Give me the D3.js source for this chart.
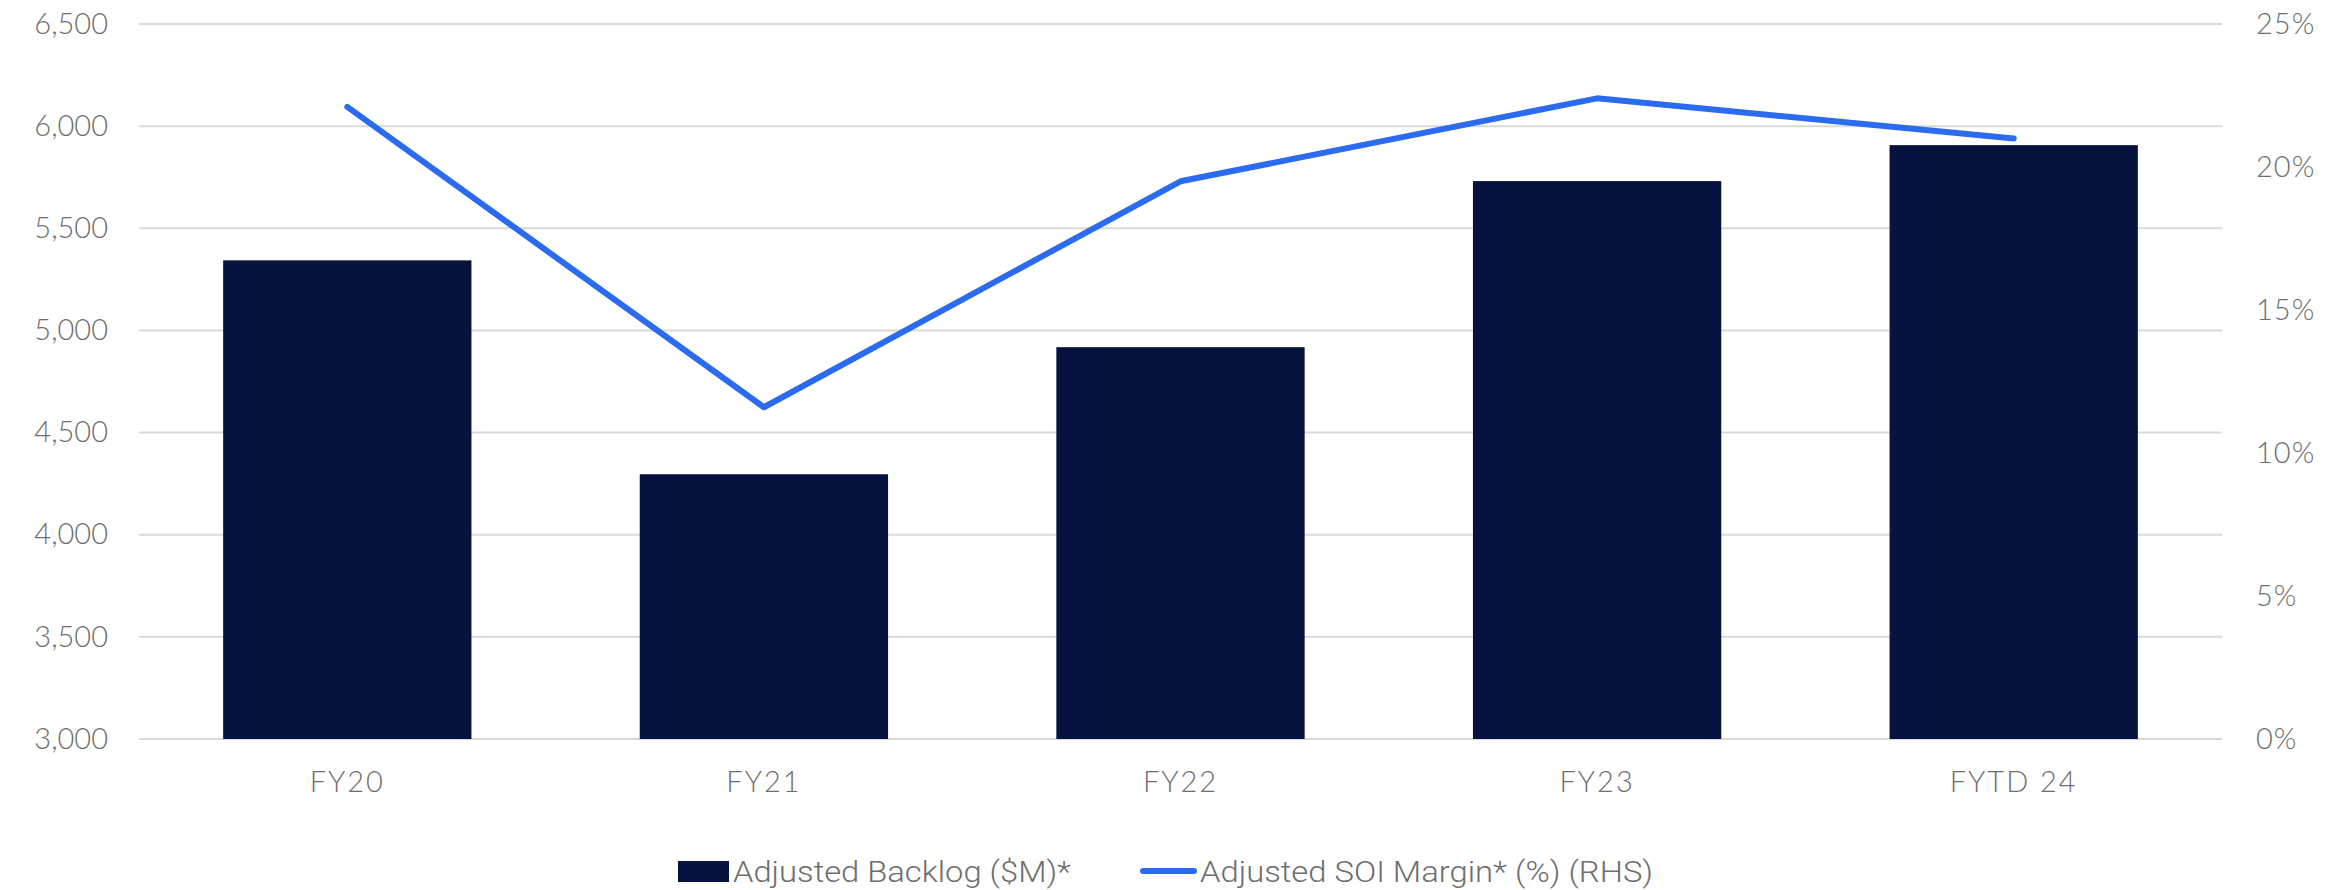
<!DOCTYPE html>
<html>
<head>
<meta charset="utf-8">
<script src="https://cdn.jsdelivr.net/npm/d3@7"></script>
<style>
  body { margin: 0; background: #fff; }
  svg { display: block; }
</style>
</head>
<body>
<svg id="chart" width="2346" height="890"></svg>
<script>
// chart values
var Years = ["FY20", "FY21", "FY22", "FY23", "FYTD 24"];
var Backlog = [5343, 4296, 4918, 5731, 5907];
var SoiMargin = [22.1, 11.6, 19.5, 22.4, 21.0];
var LeftTicks = [3000, 3500, 4000, 4500, 5000, 5500, 6000, 6500];
var RightTicks = [0, 5, 10, 15, 20, 25];
var LegendLabels = ["Adjusted Backlog ($M)*", "Adjusted SOI Margin* (%) (RHS)"];

var BarColor = "#07123e";
var LineColor = "#2b6bf0";
var TextColor = "#6e6e6e";
var AxisFont = "Lato";

function Draw() {
    var svg = d3.select("#chart");

    var plot = {left: 139, right: 2222, top: 24, bottom: 739};

    var xScale = d3.scaleBand().domain(Years)
                   .range([plot.left, plot.right]).paddingInner(0.404).paddingOuter(0.202);
    var yLeft = d3.scaleLinear().domain([3000, 6500]).range([plot.bottom, plot.top]);
    var yRight = d3.scaleLinear().domain([0, 25]).range([plot.bottom, plot.top]);

    // grid lines
    svg.append("g")
       .selectAll("line").data(LeftTicks).enter()
         .append("line")
         .attr("x1", plot.left)
         .attr("x2", plot.right)
         .attr("y1", function(d) { return yLeft(d); })
         .attr("y2", function(d) { return yLeft(d); })
         .attr("stroke", "#d9d9d9")
         .attr("stroke-width", 2);

    // bars
    svg.append("g")
       .selectAll("rect").data(Years).enter()
         .append("rect")
         .attr("x", function(d) { return xScale(d); })
         .attr("width", xScale.bandwidth())
         .attr("y", function(d, i) { return yLeft(Backlog[i]); })
         .attr("height", function(d, i) { return yLeft(3000) - yLeft(Backlog[i]); })
         .attr("fill", BarColor);

    // margin line
    var line = d3.line()
        .x(function(d, i) { return xScale(Years[i]) + xScale.bandwidth() / 2; })
        .y(function(d) { return yRight(d); });

    svg.append("path")
       .datum(SoiMargin)
       .attr("d", line)
       .attr("fill", "none")
       .attr("stroke", LineColor)
       .attr("stroke-width", 6)
       .attr("stroke-linejoin", "round")
       .attr("stroke-linecap", "round");

    // left axis
    var leftAxis = svg.append("g")
       .attr("transform", "translate(108,0)")
       .call(d3.axisLeft(yLeft).tickValues(LeftTicks).tickSize(0).tickPadding(0)
             .tickFormat(d3.format(",")));
    leftAxis.select(".domain").remove();

    // right axis
    var rightAxis = svg.append("g")
       .attr("transform", "translate(2256,0)")
       .call(d3.axisRight(yRight).tickValues(RightTicks).tickSize(0).tickPadding(0)
             .tickFormat(function(d) { return d + "%"; }));
    rightAxis.select(".domain").remove();

    // category axis
    var bottomAxis = svg.append("g")
       .attr("transform", "translate(0,782)")
       .call(d3.axisBottom(xScale).tickSize(0).tickPadding(0));
    bottomAxis.select(".domain").remove();
    bottomAxis.selectAll("text").attr("dy", "0.35em");

    svg.selectAll(".tick text")
       .style("font-family", AxisFont)
       .style("font-weight", 300)
       .style("font-size", "29px")
       .style("fill", TextColor);
    bottomAxis.selectAll("text").style("letter-spacing", "2px");
    rightAxis.selectAll("text").style("letter-spacing", "1px");

    // legend
    var legend = svg.append("g");
    legend.append("rect")
          .attr("x", 678).attr("y", 861)
          .attr("width", 51).attr("height", 21)
          .attr("fill", BarColor);
    legend.append("text")
          .attr("x", 733).attr("y", 871).attr("dy", "0.35em")
          .attr("textLength", 338).attr("lengthAdjust", "spacingAndGlyphs")
          .style("font-family", "Roboto").style("font-weight", 300)
          .style("font-size", "30px").style("fill", TextColor)
          .text(LegendLabels[0]);
    legend.append("line")
          .attr("x1", 1143).attr("x2", 1194)
          .attr("y1", 871).attr("y2", 871)
          .attr("stroke", LineColor).attr("stroke-width", 6)
          .attr("stroke-linecap", "round");
    legend.append("text")
          .attr("x", 1200).attr("y", 871).attr("dy", "0.35em")
          .attr("textLength", 453).attr("lengthAdjust", "spacingAndGlyphs")
          .style("font-family", "Roboto").style("font-weight", 300)
          .style("font-size", "30px").style("fill", TextColor)
          .text(LegendLabels[1]);
}

Draw();
</script>
</body>
</html>
